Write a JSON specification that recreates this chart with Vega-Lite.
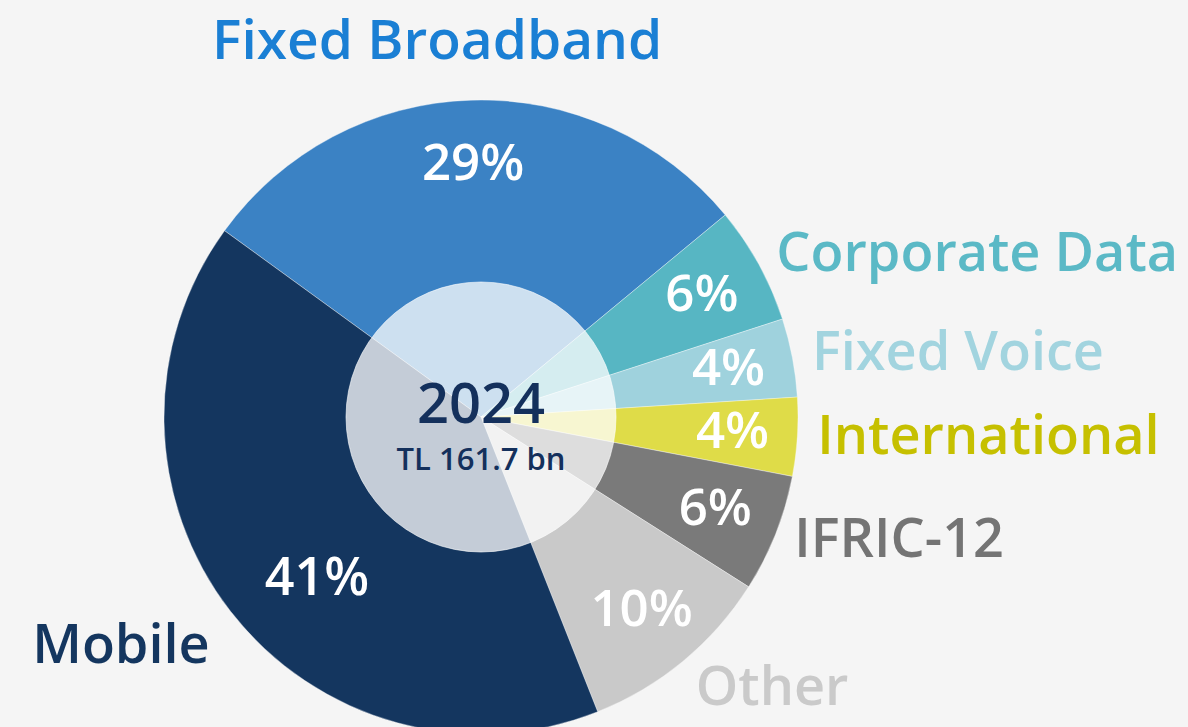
{
  "$schema": "https://vega.github.io/schema/vega-lite/v6.json",
  "width": 962,
  "height": 620,
  "autosize": {"type": "none"},
  "padding": {"left": 0, "top": 107, "right": 226, "bottom": 0},
  "background": "#f5f5f5",
  "config": {"view": {"stroke": null}, "font": "Open Sans"},
  "resolve": {"scale": {"color": "independent"}},
  "layer": [
    {
      "data": {"values": [
        {"cat": "Fixed Broadband", "share": 29, "ord": 1, "label": "29%"},
        {"cat": "Corporate Data", "share": 6, "ord": 2, "label": "6%"},
        {"cat": "Fixed Voice", "share": 4, "ord": 3, "label": "4%"},
        {"cat": "International", "share": 4, "ord": 4, "label": "4%"},
        {"cat": "IFRIC-12", "share": 6, "ord": 5, "label": "6%"},
        {"cat": "Other", "share": 10, "ord": 6, "label": "10%"},
        {"cat": "Mobile", "share": 41, "ord": 7, "label": "41%"}
      ]},
      "encoding": {
        "theta": {"field": "share", "type": "quantitative", "stack": true, "scale": {"range": [-0.9425, 5.3407]}},
        "order": {"field": "ord", "type": "quantitative"}
      },
      "resolve": {"scale": {"color": "independent"}},
      "layer": [
        {
          "mark": {"type": "arc", "outerRadius": 317, "stroke": "#ffffff", "strokeWidth": 1, "strokeOpacity": 0.35},
          "encoding": {
            "color": {"field": "cat", "type": "nominal", "legend": null,
              "scale": {"domain": ["Fixed Broadband", "Corporate Data", "Fixed Voice", "International", "IFRIC-12", "Other", "Mobile"],
                        "range": ["#3b82c4", "#57b6c3", "#9fd2dd", "#dfdc48", "#7a7a7a", "#c9c9c9", "#14365f"]}}
          }
        },
        {
          "mark": {"type": "text", "radius": 252, "fontSize": 51, "fontWeight": 600, "color": "#ffffff"},
          "encoding": {"text": {"condition": {"test": "datum.cat !== 'Mobile'", "field": "label"}, "value": ""}}
        },
        {
          "mark": {"type": "text", "radius": 248, "fontSize": 52, "fontWeight": 600, "color": "#ffffff", "dx": 32, "dy": 10},
          "encoding": {"text": {"condition": {"test": "datum.cat === 'Mobile'", "field": "label"}, "value": ""}}
        },
        {
          "mark": {"type": "text", "radius": 337, "align": "left", "baseline": "middle", "fontSize": 54, "fontWeight": 600},
          "encoding": {
            "text": {"condition": {"test": "datum.cat !== 'Mobile' && datum.cat !== 'Fixed Broadband' && datum.cat !== 'Other'", "field": "cat"}, "value": ""},
            "color": {"field": "cat", "type": "nominal", "legend": null,
              "scale": {"domain": ["Fixed Broadband", "Corporate Data", "Fixed Voice", "International", "IFRIC-12", "Other", "Mobile"],
                        "range": ["#1a7fd4", "#5bb9c6", "#a2d4df", "#c6c000", "#747474", "#cacaca", "#14365f"]}}
          }
        },
        {
          "mark": {"type": "text", "radius": 337, "align": "left", "baseline": "middle", "fontSize": 54, "fontWeight": 600, "dy": 12, "color": "#cacaca"},
          "encoding": {
            "text": {"condition": {"test": "datum.cat === 'Other'", "field": "cat"}, "value": ""}
          }
        },
        {
          "mark": {"type": "text", "radius": 356, "align": "right", "baseline": "middle", "fontSize": 54, "fontWeight": 600, "dx": 10, "dy": 12, "color": "#14365f"},
          "encoding": {
            "text": {"condition": {"test": "datum.cat === 'Mobile'", "field": "cat"}, "value": ""}
          }
        },
        {
          "mark": {"type": "text", "radius": 375, "align": "center", "baseline": "middle", "fontSize": 55, "fontWeight": 600, "dx": -32, "color": "#1a7fd4"},
          "encoding": {
            "text": {"condition": {"test": "datum.cat === 'Fixed Broadband'", "field": "cat"}, "value": ""}
          }
        }
      ]
    },
    {
      "data": {"values": [{"year": "2024", "total": "TL 161.7 bn"}]},
      "layer": [
        {
          "mark": {"type": "arc", "theta": 0, "theta2": 6.2832, "radius": 135, "fill": "#ffffff", "fillOpacity": 0.75, "stroke": "#ffffff", "strokeOpacity": 0.6, "strokeWidth": 1},
          "encoding": {}
        },
        {
          "mark": {"type": "text", "fontSize": 56, "fontWeight": 600, "color": "#14305c", "dy": -11},
          "encoding": {"text": {"field": "year"}}
        },
        {
          "mark": {"type": "text", "fontSize": 31, "fontWeight": 600, "color": "#14305c", "dy": 44},
          "encoding": {"text": {"field": "total"}}
        }
      ]
    }
  ]
}
